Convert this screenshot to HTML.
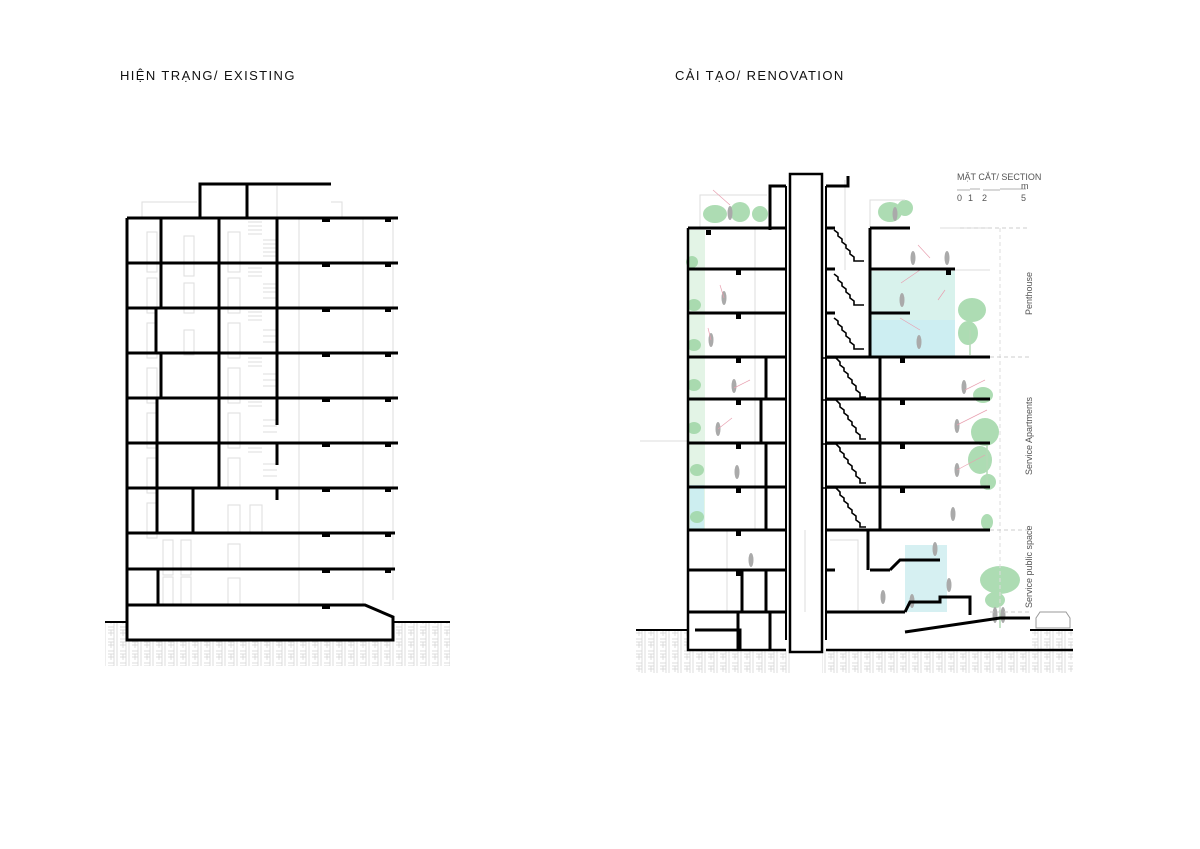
<!DOCTYPE html>
<html><head><meta charset="utf-8"><style>
html,body{margin:0;padding:0;background:#fff;width:1200px;height:849px;overflow:hidden}
svg{display:block}
.t{font-family:"Liberation Sans","Noto Sans CJK SC",sans-serif;font-size:13px;letter-spacing:1.4px;fill:#111}
.s{font-family:"Liberation Sans",sans-serif;font-size:9px;fill:#555}
</style></head><body>
<svg width="1200" height="849" viewBox="0 0 1200 849" xmlns="http://www.w3.org/2000/svg">
<defs>
<pattern id="h" width="12" height="12" patternUnits="userSpaceOnUse">
<rect width="12" height="12" fill="#fff"/>
<path d="M0 3H6M0 6H6M0 9H6M9 0V6M6 6V12M9 6V12M6 0V6M3 6V12" stroke="#d4d4d4" stroke-width="0.8" fill="none"/>
</pattern>
</defs>
<text x="120" y="80" class="t">HIỆN TRẠNG/ EXISTING</text>
<text x="675" y="80" class="t">CẢI TẠO/ RENOVATION</text>

<!-- LEFT BUILDING -->
<rect x="105" y="622" width="345" height="44" fill="url(#h)"/>
<rect x="127" y="605" width="266" height="35" fill="#fff"/>
<g stroke="#ddd" stroke-width="1" fill="none">
<path d="M142 218V202H197M331 202H342V218"/>
<path d="M277 186V218M299 218V605M363 218V605M393 218V600"/>
<path d="M147 232h10v40h-10zM147 278h10v35h-10zM147 323h10v35h-10zM147 368h10v35h-10zM147 413h10v35h-10zM147 458h10v35h-10zM147 503h10v35h-10zM163 540h10v35h-10zM181 540h10v35h-10zM163 577h10v28h-10zM181 577h10v28h-10z"/>
<path d="M228 232h12v40h-12zM228 278h12v35h-12zM228 323h12v35h-12zM228 368h12v35h-12zM228 413h12v35h-12zM228 458h12v30h-12zM228 505h12v28h-12zM250 505h12v28h-12zM228 544h12v25h-12zM228 578h12v27h-12z"/>
<path d="M184 236h10v40h-10zM184 283h10v30h-10zM184 330h10v25h-10z"/>
</g>
<g stroke="#bbb" stroke-width="0.6">
<path d="M248 222h14M248 226h14M248 230h14M248 234h14M263 240h14M263 244h14M263 248h14M263 252h14M263 256h14M248 268h14M248 272h14M248 276h14M263 284h14M263 288h14M263 292h14M263 298h14M248 312h14M248 316h14M248 320h14M263 330h14M263 336h14M263 342h14M248 358h14M248 362h14M248 366h14M263 374h14M263 380h14M263 386h14M248 402h14M248 406h14M263 420h14M263 426h14M263 432h14M248 448h14M248 452h14M263 464h14M263 470h14M263 476h14"/>
</g>
<g stroke="#000" stroke-width="3" fill="none">
<path d="M200 218V184H331M247 184V218"/>
<path d="M127 218V640H393V617L365 605H128"/>
<path d="M127 218H398M127 263H398M127 308H398M127 353H398M127 398H398M127 443H398M127 488H398M127 533H395M127 569H395"/>
<path d="M161 218V263M161 263V308M156 308V353M161 353V398M157 398V443M157 443V488M157 488V533M193 488V533M158 569V605"/>
<path d="M219 218V488M277 218V308M277 308V398M277 398V425M277 443V465M277 488V500"/>
<path d="M105 622H127M393 622H450" stroke-width="2"/>
</g>
<g fill="#000">
<rect x="322" y="219" width="8" height="3"/><rect x="385" y="219" width="6" height="3"/><rect x="322" y="264" width="8" height="3"/><rect x="385" y="264" width="6" height="3"/><rect x="322" y="309" width="8" height="3"/><rect x="385" y="309" width="6" height="3"/><rect x="322" y="354" width="8" height="3"/><rect x="385" y="354" width="6" height="3"/><rect x="322" y="399" width="8" height="3"/><rect x="385" y="399" width="6" height="3"/><rect x="322" y="444" width="8" height="3"/><rect x="385" y="444" width="6" height="3"/><rect x="322" y="489" width="8" height="3"/><rect x="385" y="489" width="6" height="3"/><rect x="322" y="534" width="8" height="3"/><rect x="385" y="534" width="6" height="3"/><rect x="322" y="570" width="8" height="3"/><rect x="385" y="570" width="6" height="3"/><rect x="322" y="606" width="8" height="3"/>
</g>

<!-- RIGHT BUILDING -->
<rect x="636" y="631" width="437" height="42" fill="url(#h)"/>
<rect x="688" y="612" width="342" height="38" fill="#fff"/>
<rect x="790" y="630" width="32" height="43" fill="#fff"/>
<rect x="688" y="230" width="17" height="300" fill="#e3f4e6"/>
<rect x="690" y="485" width="14" height="45" fill="#cdeef0"/>
<rect x="871" y="271" width="84" height="86" fill="#d8f2ec"/>
<rect x="871" y="320" width="84" height="37" fill="#cdeef2"/>
<rect x="905" y="545" width="42" height="67" fill="#d6f0f2"/>
<g fill="#9fd6a6" opacity="0.85">
<ellipse cx="715" cy="214" rx="12" ry="9"/><ellipse cx="740" cy="212" rx="10" ry="10"/><ellipse cx="760" cy="214" rx="8" ry="8"/><ellipse cx="890" cy="212" rx="12" ry="10"/><ellipse cx="905" cy="208" rx="8" ry="8"/>
<ellipse cx="692" cy="262" rx="6" ry="6"/><ellipse cx="694" cy="305" rx="7" ry="6"/><ellipse cx="694" cy="345" rx="7" ry="6"/><ellipse cx="694" cy="385" rx="7" ry="6"/><ellipse cx="694" cy="428" rx="7" ry="6"/><ellipse cx="697" cy="470" rx="7" ry="6"/><ellipse cx="697" cy="517" rx="7" ry="6"/>
<ellipse cx="972" cy="310" rx="14" ry="12"/><ellipse cx="968" cy="333" rx="10" ry="12"/><ellipse cx="983" cy="395" rx="10" ry="8"/><ellipse cx="985" cy="432" rx="14" ry="14"/><ellipse cx="980" cy="460" rx="12" ry="14"/><ellipse cx="988" cy="482" rx="8" ry="8"/><ellipse cx="987" cy="522" rx="6" ry="8"/>
<ellipse cx="1000" cy="580" rx="20" ry="14"/><ellipse cx="995" cy="600" rx="10" ry="8"/>
</g>
<g stroke="#b3d9b6" stroke-width="1.5"><path d="M1000 590V628M970 330V355M987 445V490"/></g>
<g fill="#aaa">
<ellipse cx="730" cy="213" rx="2.5" ry="7"/><ellipse cx="895" cy="214" rx="2.5" ry="7"/><ellipse cx="913" cy="258" rx="2.5" ry="7"/><ellipse cx="947" cy="258" rx="2.5" ry="7"/><ellipse cx="902" cy="300" rx="2.5" ry="7"/><ellipse cx="919" cy="342" rx="2.5" ry="7"/><ellipse cx="724" cy="298" rx="2.5" ry="7"/><ellipse cx="711" cy="340" rx="2.5" ry="7"/><ellipse cx="734" cy="386" rx="2.5" ry="7"/><ellipse cx="718" cy="429" rx="2.5" ry="7"/><ellipse cx="737" cy="472" rx="2.5" ry="7"/><ellipse cx="751" cy="560" rx="2.5" ry="7"/><ellipse cx="964" cy="387" rx="2.5" ry="7"/><ellipse cx="957" cy="426" rx="2.5" ry="7"/><ellipse cx="957" cy="470" rx="2.5" ry="7"/><ellipse cx="953" cy="514" rx="2.5" ry="7"/><ellipse cx="935" cy="549" rx="2.5" ry="7"/><ellipse cx="949" cy="585" rx="2.5" ry="7"/><ellipse cx="883" cy="597" rx="2.5" ry="7"/><ellipse cx="912" cy="601" rx="2.5" ry="7"/><ellipse cx="995" cy="615" rx="2.5" ry="8"/><ellipse cx="1003" cy="615" rx="2.5" ry="8"/>
</g>
<g stroke="#ddd" stroke-width="1" fill="none">
<path d="M700 228V195H767M870 228V200H905M640 441H688"/>
<path d="M755 228V357M755 357V530M805 530V612M727 530V612"/>
<path d="M940 228H990M955 270H990M955 357H990"/>
<path d="M845 180V270M830 540H858V610"/>
<path d="M1000 228V612" stroke-dasharray="4 3"/>
<path d="M960 228H1030M990 357H1030M990 530H1030M990 612H1030" stroke-dasharray="4 3" stroke="#ccc"/>
<path d="M1040 612h26l4 6v10h-34v-10z" stroke="#999"/>
</g>
<g stroke="#e8a0b0" stroke-width="0.7">
<path d="M713 190L730 205M720 285L724 298M708 328L711 340M750 380L734 388M732 418L718 429M901 283L920 270M900 318L920 330M918 245L930 258M938 300L945 290M985 380L965 390M987 410L957 425M985 455L957 470"/>
</g>
<g stroke="#000" stroke-width="1.6" fill="none">
<path d="M834 230l4 3v3l4 3v3l4 3v3l4 3v3l4 3v4h10M834 274l4 3v3l4 3v3l4 3v3l4 3v3l4 3v4h10M834 318l4 3v3l4 3v3l4 3v3l4 3v3l4 3v4h10"/>
<path d="M822 358h14l4 4v3l4 3v3l4 3v3l4 3v3l4 3v4l4 3v4h6M822 400h14l4 4v3l4 3v3l4 3v3l4 3v3l4 3v4l4 3v4h6M822 444h14l4 4v3l4 3v3l4 3v3l4 3v3l4 3v4l4 3v4h6M822 488h14l4 4v3l4 3v3l4 3v3l4 3v3l4 3v4l4 3v4h6"/>
</g>
<g stroke="#000" stroke-width="3" fill="none">
<rect x="790" y="174" width="32" height="478" stroke-width="2.5"/>
<path d="M786 186V640M826 186V640" stroke-width="2"/>
<path d="M770 230V186H786M826 186H848V176"/>
<path d="M688 228V650H786M826 650H1073" stroke-width="2.5"/>
<path d="M636 630H688M1030 630H1073" stroke-width="2"/>
<path d="M688 228H786M688 269H786M688 313H786M688 357H786M688 399H786M688 443H786M688 487H786M688 530H786M688 570H786M688 612H786"/>
<path d="M826 228H835M870 228H910M870 269H955M826 269H835M826 313H835M870 313H910M826 357H990M826 399H990M826 443H990M826 487H990M826 530H990M826 570H835M870 570H890M826 612H905"/>
<path d="M870 228V357M880 357V530M868 530V570M742 570V612M766 570V612M738 612V650M695 630H740V650M770 612V650"/>
<path d="M766 357V399M761 399V443M766 443V487M766 487V530"/>
<path d="M890 570l10-10h40M905 612l5-10h30v-5h30V615"/>
<path d="M905 632L1000 618H1030"/>
</g>
<g fill="#000">
<rect x="706" y="230" width="5" height="5"/><rect x="736" y="270" width="5" height="5"/><rect x="736" y="314" width="5" height="5"/><rect x="736" y="358" width="5" height="5"/><rect x="736" y="400" width="5" height="5"/><rect x="736" y="444" width="5" height="5"/><rect x="736" y="488" width="5" height="5"/><rect x="736" y="531" width="5" height="5"/><rect x="736" y="571" width="5" height="5"/><rect x="900" y="358" width="5" height="5"/><rect x="900" y="400" width="5" height="5"/><rect x="900" y="444" width="5" height="5"/><rect x="900" y="488" width="5" height="5"/><rect x="946" y="270" width="5" height="5"/>
</g>
<text x="957" y="180" class="s">MẶT CẮT/ SECTION</text>
<path d="M957 190H970M970 189H980M983 190H1000M1000 189H1026" stroke="#999" stroke-width="0.8"/>
<text x="1021" y="189" class="s">m</text>
<text x="957" y="201" class="s">0</text><text x="968" y="201" class="s">1</text><text x="982" y="201" class="s">2</text>
<text x="1021" y="201" class="s">5</text>
<text transform="translate(1032 315) rotate(-90)" class="s">Penthouse</text>
<text transform="translate(1032 475) rotate(-90)" class="s">Service Apartments</text>
<text transform="translate(1032 608) rotate(-90)" class="s">Service public space</text>
</svg>
</body></html>
